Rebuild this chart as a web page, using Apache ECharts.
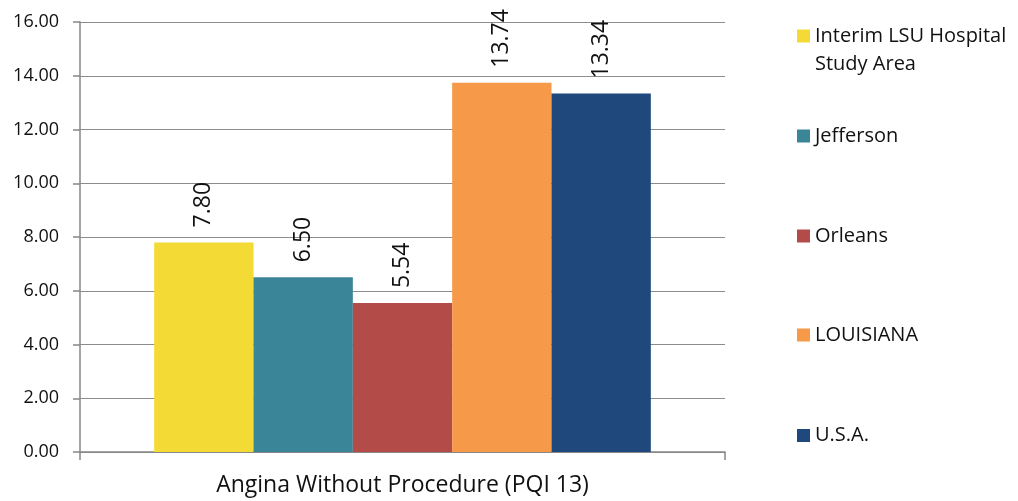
<!DOCTYPE html>
<html>
<head>
<meta charset="utf-8">
<script src="https://cdn.jsdelivr.net/npm/echarts@6/dist/echarts.min.js"></script>
<style>html,body{margin:0;padding:0;background:#fff}#c{width:1018px;height:501px}</style>
</head>
<body>
<div id="c"></div>
<script>
const categories = ['Angina Without Procedure (PQI 13)'];
const seriesNames = ['Interim LSU Hospital Study Area', 'Jefferson', 'Orleans', 'LOUISIANA', 'U.S.A.'];
const seriesValues = [[7.80], [6.50], [5.54], [13.74], [13.34]];
const seriesColors = ['#F4DA34', '#3A8598', '#B34B49', '#F69948', '#1F497D'];
const yMin = 0, yMax = 16, yStep = 2;

const FONT = 'Open Sans';
const legendCenters = [36, 136, 236, 335, 435.5];

const legends = seriesNames.map((n, i) => {
  const base = {
    data: [n], orient: 'vertical', left: 797, padding: 0,
    itemWidth: 13, itemHeight: 13, itemGap: 0, icon: 'rect',
    selectedMode: false
  };
  if (i === 0) {
    return Object.assign(base, {
      top: legendCenters[0] - 42,
      formatter: () => '\u00a0\nInterim LSU Hospital\nStudy Area',
      textStyle: { fontFamily: FONT, fontSize: 20, color: '#111', lineHeight: 28 }
    });
  }
  return Object.assign(base, {
    top: legendCenters[i] - 12,
    textStyle: { fontFamily: FONT, fontSize: 20, color: '#111', lineHeight: 24 }
  });
});

const chart = echarts.init(document.getElementById('c'), null, { renderer: 'canvas' });
chart.setOption({
  animation: false,
  backgroundColor: '#fff',
  grid: { left: 80, right: 293, top: 22, bottom: 49, containLabel: false },
  legend: legends,
  xAxis: {
    type: 'category', data: categories,
    axisLine: { lineStyle: { color: '#868686', width: 1.5 } },
    axisTick: { show: true, length: 8, alignWithLabel: false, lineStyle: { color: '#868686', width: 1.5 } },
    axisLabel: { fontFamily: FONT, fontSize: 23, color: '#111', margin: 22 }
  },
  yAxis: {
    type: 'value', min: yMin, max: yMax, interval: yStep,
    axisLine: { show: true, lineStyle: { color: '#868686', width: 1.5 } },
    axisTick: { show: true, length: 7, lineStyle: { color: '#868686', width: 1.5 } },
    splitLine: { show: true, lineStyle: { color: '#8c8c8c', width: 1.2 } },
    axisLabel: { fontFamily: FONT, fontSize: 18, color: '#111', margin: 21, formatter: v => v.toFixed(2) }
  },
  series: seriesNames.map((n, i) => ({
    name: n, type: 'bar', data: seriesValues[i],
    barGap: '0%', barCategoryGap: '23%',
    itemStyle: { color: seriesColors[i] },
    label: {
      show: true, position: 'top', rotate: 90, distance: 15,
      align: 'left', verticalAlign: 'middle',
      fontFamily: FONT, fontSize: 23, color: '#111',
      formatter: p => p.value.toFixed(2)
    }
  }))
});
</script>
</body>
</html>
